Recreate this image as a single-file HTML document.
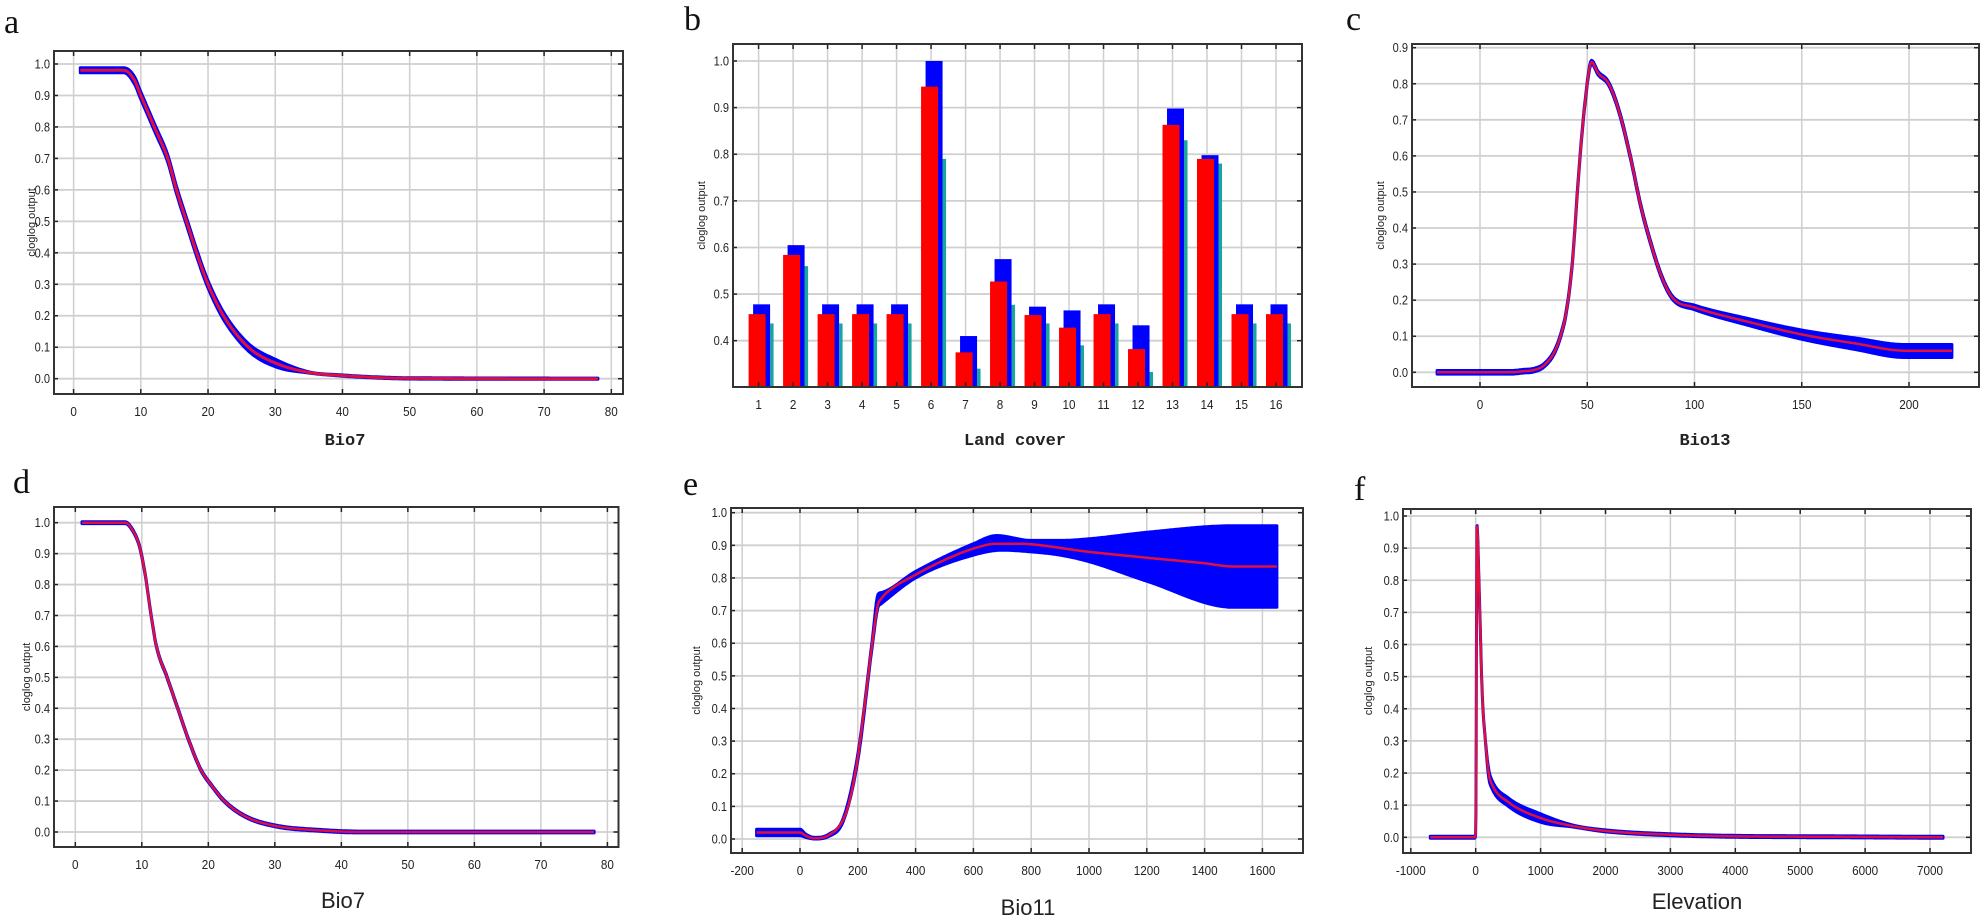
<!DOCTYPE html>
<html><head><meta charset="utf-8">
<style>
html,body{margin:0;padding:0;background:#fff;}
body{width:1983px;height:921px;overflow:hidden;}
svg{display:block;}
</style></head>
<body>
<svg id="s" width="1983" height="921" xmlns="http://www.w3.org/2000/svg"></svg>
<script>
var out='';
function P(c){
  var sx=(c.x1p-c.x0p)/(c.x1v-c.x0v), sy=(c.y1p-c.y0p)/(c.y1v-c.y0v);
  var X=function(v){return c.x0p+(v-c.x0v)*sx;}, Y=function(v){return c.y0p+(v-c.y0v)*sy;};
  var g='';
  c.xt.forEach(function(v){var x=X(v);g+='<line x1="'+x+'" y1="'+c.t+'" x2="'+x+'" y2="'+c.b+'" stroke="#cfcfcf" stroke-width="1.5"/>';});
  c.yt.forEach(function(v){var y=Y(v);g+='<line x1="'+c.l+'" y1="'+y+'" x2="'+c.r+'" y2="'+y+'" stroke="#cfcfcf" stroke-width="1.8"/>';});
  out+=g;
  if(c.draw)c.draw(X,Y);
  var t='';
  c.xt.forEach(function(v){var x=X(v);t+='<line x1="'+x+'" y1="'+c.t+'" x2="'+x+'" y2="'+(c.t+5)+'" stroke="#222" stroke-width="1.5"/><line x1="'+x+'" y1="'+c.b+'" x2="'+x+'" y2="'+(c.b-5)+'" stroke="#222" stroke-width="1.5"/>';
    t+='<text x="'+x+'" y="'+(c.b+c.ly)+'" font-size="13" text-anchor="middle" fill="#222" font-family="Liberation Sans, sans-serif" transform="translate('+x+' 0) scale(0.9 1) translate('+(-x)+' 0)">'+v+'</text>';});
  c.yt.forEach(function(v){var y=Y(v);t+='<line x1="'+c.l+'" y1="'+y+'" x2="'+(c.l+4)+'" y2="'+y+'" stroke="#222" stroke-width="1.5"/><line x1="'+c.r+'" y1="'+y+'" x2="'+(c.r-5)+'" y2="'+y+'" stroke="#222" stroke-width="1.5"/>';
    t+='<text x="'+(c.l-4)+'" y="'+(y+4.5)+'" font-size="13" text-anchor="end" fill="#222" font-family="Liberation Sans, sans-serif" transform="translate('+(c.l-4)+' 0) scale(0.85 1) translate('+(-(c.l-4))+' 0)">'+v.toFixed(1)+'</text>';});
  out+=t;
  out+='<rect x="'+c.l+'" y="'+c.t+'" width="'+(c.r-c.l)+'" height="'+(c.b-c.t)+'" fill="none" stroke="#333" stroke-width="2"/>';
  var cy=(c.t+c.b)/2;
  out+='<text x="'+c.ylx+'" y="'+cy+'" font-size="11" text-anchor="middle" fill="#222" font-family="Liberation Sans, sans-serif" transform="rotate(-90 '+c.ylx+' '+cy+')">cloglog output</text>';
  out+=c.title;
  out+='<text x="'+c.lx+'" y="'+c.lyy+'" font-size="34" fill="#111" font-family="Liberation Serif, serif">'+c.letter+'</text>';
}
// monotone cubic interpolation
function mk(pts){
  var n=pts.length,xs=pts.map(function(p){return p[0];}),ys=pts.map(function(p){return p[1];});
  var d=[],m=[];
  for(var i=0;i<n-1;i++)d.push((ys[i+1]-ys[i])/(xs[i+1]-xs[i]));
  m[0]=d[0];m[n-1]=d[n-2];
  for(var i=1;i<n-1;i++){m[i]=(d[i-1]*d[i]<=0)?0:(d[i-1]+d[i])/2;}
  for(var i=0;i<n-1;i++){if(d[i]===0){m[i]=0;m[i+1]=0;continue;}var a=m[i]/d[i],b=m[i+1]/d[i],s=a*a+b*b;if(s>9){var tt=3/Math.sqrt(s);m[i]=tt*a*d[i];m[i+1]=tt*b*d[i];}}
  return function(v){
    if(v<=xs[0])return ys[0];if(v>=xs[n-1])return ys[n-1];
    var i=0;while(v>xs[i+1])i++;
    var h=xs[i+1]-xs[i],t=(v-xs[i])/h,t2=t*t,t3=t2*t;
    return (2*t3-3*t2+1)*ys[i]+(t3-2*t2+t)*h*m[i]+(-2*t3+3*t2)*ys[i+1]+(t3-t2)*h*m[i+1];
  };
}
function curve(X,Y,mid,up,lo,x0,x1,n,rw){
  var fm=mk(mid),fu=mk(up),fl=mk(lo);
  var U=[],L=[],M=[];
  for(var i=0;i<=n;i++){var v=x0+(x1-x0)*i/n;U.push(X(v).toFixed(1)+','+Y(fu(v)).toFixed(1));L.push(X(v).toFixed(1)+','+Y(fl(v)).toFixed(1));M.push(X(v).toFixed(1)+','+Y(fm(v)).toFixed(1));}
  out+='<polygon points="'+U.join(' ')+' '+L.reverse().join(' ')+'" fill="#0000ff" stroke="#0000ff" stroke-width="3" stroke-linejoin="round"/>';
  out+='<polyline points="'+M.join(' ')+'" fill="none" stroke="#e0103a" stroke-width="'+(rw||2.5)+'" stroke-linejoin="round"/>';
}
function shift(pts,d){return pts.map(function(p){return [p[0],p[1]+(typeof d==='function'?d(p[0]):d)];});}
var monoT=function(x,y,s){return '<text x="'+x+'" y="'+y+'" font-size="17" font-weight="bold" text-anchor="middle" fill="#222" font-family="Liberation Mono, monospace">'+s+'</text>';};
var sansT=function(x,y,s){return '<text x="'+x+'" y="'+y+'" font-size="22" text-anchor="middle" fill="#222" font-family="Liberation Sans, sans-serif">'+s+'</text>';};

var aM=[[1,0.98],[7.5,0.98],[9,0.95],[10,0.9],[12,0.8],[14,0.7],[15.3,0.6],[16.8,0.5],[18.3,0.4],[20,0.3],[22.3,0.2],[26,0.1],[30,0.05],[35,0.02],[40,0.01],[45,0.004],[50,0.001],[78,0]];
P({l:54,r:623,t:51,b:394,x0v:0,x1v:80,x0p:73.6,x1p:611.3,y0v:0,y1v:1,y0p:378.7,y1p:64,xt:[0,10,20,30,40,50,60,70,80],yt:[0,0.1,0.2,0.3,0.4,0.5,0.6,0.7,0.8,0.9,1.0],ly:22,ylx:35,letter:'a',lx:4,lyy:33,
 title:monoT(345,445,'Bio7'),
 draw:function(X,Y){curve(X,Y,aM,shift(aM,function(v){return v<8?0.008:(v<35?0.012:0.002);}),shift(aM,function(v){return v<8?-0.008:(v<35?-0.012:-0.002);}),1,78,400,3);}});

(function(){
 var bl=[.478,.605,.478,.478,.478,1.0,.41,.575,.473,.465,.478,.433,.898,.798,.478,.478];
 var rd=[.457,.584,.457,.457,.457,.945,.375,.527,.455,.428,.457,.382,.863,.790,.457,.457];
 var cy=[.437,.56,.437,.437,.437,.79,.34,.477,.437,.39,.437,.333,.83,.78,.437,.437];
 P({l:733,r:1302,t:44,b:387,x0v:1,x1v:16,x0p:758.6,x1p:1276,y0v:0.4,y1v:1.0,y0p:340.7,y1p:61,xt:[1,2,3,4,5,6,7,8,9,10,11,12,13,14,15,16],yt:[0.4,0.5,0.6,0.7,0.8,0.9,1.0],ly:22,ylx:705,letter:'b',lx:684,lyy:30,
  title:monoT(1015,445,'Land cover'),
  draw:function(X,Y){var b=387;for(var i=0;i<16;i++){var c=X(i+1);
   out+='<rect x="'+(c+11.5)+'" y="'+Y(cy[i])+'" width="3.5" height="'+(b-Y(cy[i]))+'" fill="#1aa6a0"/>';
   out+='<rect x="'+(c-5.5)+'" y="'+Y(bl[i])+'" width="17" height="'+(b-Y(bl[i]))+'" fill="#0000ff"/>';
   out+='<rect x="'+(c-10)+'" y="'+Y(rd[i])+'" width="17" height="'+(b-Y(rd[i]))+'" fill="#ff0000"/>';}}});
})();

var cM=[[-20,0],[15,0],[20,0.003],[25,0.006],[30,0.02],[35,0.06],[38,0.11],[40,0.16],[43,0.3],[46,0.55],[49,0.75],[52,0.86],[55,0.83],[60,0.8],[65,0.72],[70,0.6],[75,0.46],[80,0.35],[85,0.26],[90,0.205],[100,0.18],[125,0.14],[150,0.105],[175,0.08],[198,0.06],[220,0.06]];
P({l:1412,r:1979,t:44,b:387,x0v:0,x1v:200,x0p:1480,x1p:1909,y0v:0,y1v:0.9,y0p:372.3,y1p:47.7,xt:[0,50,100,150,200],yt:[0,0.1,0.2,0.3,0.4,0.5,0.6,0.7,0.8,0.9],ly:22,ylx:1384,letter:'c',lx:1346,lyy:30,
 title:monoT(1705,445,'Bio13'),
 draw:function(X,Y){curve(X,Y,cM,shift(cM,function(v){return v<90?0.005:0.005+0.012*Math.min(1,(v-90)/100);}),shift(cM,function(v){return v<90?-0.005:-0.005-0.014*Math.min(1,(v-90)/100);}),-20,220,500,2.5);}});

var dM=[[1,1.0],[7.5,1.0],[8.5,0.98],[9.7,0.92],[10.6,0.82],[11.4,0.7],[12.2,0.6],[13.8,0.5],[15.4,0.4],[17,0.3],[18.9,0.2],[20.5,0.15],[22.4,0.1],[25.6,0.05],[30,0.02],[37,0.005],[43,0],[78,0]];
P({l:54,r:618.5,t:507,b:847,x0v:0,x1v:80,x0p:75.3,x1p:607.4,y0v:0,y1v:1,y0p:832,y1p:522.7,xt:[0,10,20,30,40,50,60,70,80],yt:[0,0.1,0.2,0.3,0.4,0.5,0.6,0.7,0.8,0.9,1.0],ly:22,ylx:30,letter:'d',lx:13,lyy:493,
 title:sansT(343,908,'Bio7'),
 draw:function(X,Y){curve(X,Y,dM,shift(dM,0.003),shift(dM,-0.003),1,78,400,2.5);}});

var eM=[[-150,0.02],[0,0.02],[20,0.01],[50,0.002],[100,0.012],[150,0.06],[175,0.13],[200,0.25],[225,0.42],[250,0.6],[270,0.72],[280,0.735],[300,0.755],[400,0.81],[500,0.855],[600,0.89],[680,0.905],[750,0.905],[1000,0.88],[1200,0.862],[1400,0.845],[1500,0.835],[1650,0.835]];
var eU=[[-150,0.03],[0,0.03],[20,0.015],[50,0.005],[100,0.015],[150,0.065],[200,0.26],[250,0.61],[270,0.75],[280,0.755],[400,0.82],[600,0.905],[680,0.93],[800,0.915],[900,0.915],[1000,0.92],[1200,0.94],[1500,0.96],[1650,0.96]];
var eL=[[-150,0.01],[0,0.01],[20,0.005],[50,0],[100,0.008],[150,0.055],[200,0.24],[250,0.59],[270,0.71],[280,0.72],[400,0.80],[600,0.87],[700,0.885],[800,0.88],[900,0.87],[1000,0.85],[1200,0.79],[1500,0.71],[1650,0.71]];
P({l:731,r:1303,t:508,b:853,x0v:0,x1v:1600,x0p:800,x1p:1262.4,y0v:0,y1v:1,y0p:839,y1p:512.7,xt:[-200,0,200,400,600,800,1000,1200,1400,1600],yt:[0,0.1,0.2,0.3,0.4,0.5,0.6,0.7,0.8,0.9,1.0],ly:22,ylx:700,letter:'e',lx:683,lyy:495,
 title:sansT(1028,915,'Bio11'),
 draw:function(X,Y){curve(X,Y,eM,eU,eL,-150,1650,600,2.5);}});

var fM=[[-700,0],[-20,0],[0,0.01],[20,0.97],[50,0.8],[100,0.45],[150,0.3],[200,0.2],[250,0.165],[500,0.11],[1000,0.06],[1500,0.035],[2000,0.02],[3000,0.008],[4000,0.003],[5000,0.002],[7200,0]];
P({l:1403,r:1971,t:509,b:853,x0v:0,x1v:7000,x0p:1475.7,x1p:1930,y0v:0,y1v:1,y0p:837.3,y1p:516,xt:[-1000,0,1000,2000,3000,4000,5000,6000,7000],yt:[0,0.1,0.2,0.3,0.4,0.5,0.6,0.7,0.8,0.9,1.0],ly:22,ylx:1372,letter:'f',lx:1354,lyy:500,
 title:sansT(1697,909,'Elevation'),
 draw:function(X,Y){curve(X,Y,fM,shift(fM,function(v){return (v>150&&v<1500)?0.013:0.003;}),shift(fM,function(v){return (v>150&&v<1500)?-0.013:-0.003;}),-700,7200,2000,2.5);}});

document.getElementById('s').innerHTML=out;
</script>
</body></html>
